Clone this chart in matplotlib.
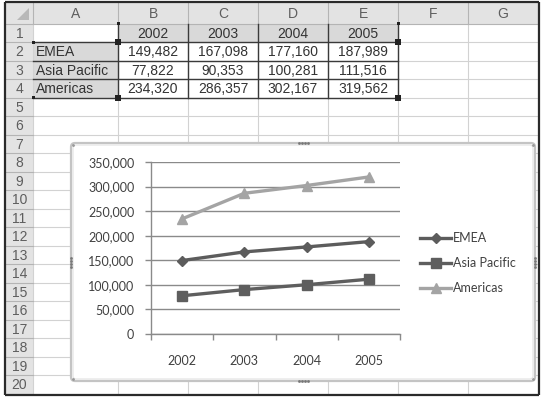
"""
Excel-style screenshot: small regional sales table with a line chart
embedded below it.
"""

import matplotlib
matplotlib.use("Agg")
import matplotlib.pyplot as plt
from matplotlib.patches import Rectangle, FancyBboxPatch, Polygon

# -------------------------
# Data
# -------------------------

years = ["2002", "2003", "2004", "2005"]
regions = ["EMEA", "Asia Pacific", "Americas"]
emea = [149482, 167098, 177160, 187989]
asia_pacific = [77822, 90353, 100281, 111516]
americas = [234320, 286357, 302167, 319562]
col_letters = ["A", "B", "C", "D", "E", "F", "G"]
y_ticks = [0, 50000, 100000, 150000, 200000, 250000, 300000, 350000]

W, H = 543, 397

# -------------------------
# Sheet geometry (pixels)
# -------------------------

col_x = [6, 33, 118, 188, 258, 328, 398, 468, 538]
head_top, head_bot = 3, 23.5
row_h = 18.5
n_rows = 20


def row_top(k):
    return head_bot + (k - 1) * row_h


def row_mid(k):
    return row_top(k) + row_h / 2


SHEET_FONT = "Liberation Sans"
CHART_FONT = "Lato"

fig = plt.figure(figsize=(W / 100, H / 100), dpi=100)
ax = fig.add_axes([0, 0, 1, 1])
ax.set_xlim(0, W)
ax.set_ylim(H, 0)
ax.axis("off")

grid_c = "#d2d2d2"
head_c = "#e3e3e3"
head_line = "#b4b4b4"
head_text = "#5e5e5e"
cell_text = "#333333"

# header row and row-number column
ax.add_patch(Rectangle((col_x[0], head_top), col_x[-1] - col_x[0],
                       head_bot - head_top, color=head_c, lw=0))
ax.add_patch(Rectangle((col_x[0], head_top), col_x[1] - col_x[0],
                       row_top(n_rows + 1) - head_top, color=head_c, lw=0))

# highlighted chart-source cells
ax.add_patch(Rectangle((col_x[2], row_top(1)), col_x[6] - col_x[2], row_h,
                       color="#d9d9d9", lw=0))
ax.add_patch(Rectangle((col_x[1], row_top(2)), col_x[2] - col_x[1], 3 * row_h,
                       color="#d9d9d9", lw=0))

# cell gridlines
for x in col_x[1:]:
    ax.plot([x, x], [head_bot, row_top(n_rows + 1)], color=grid_c, lw=0.8)
    ax.plot([x, x], [head_top, head_bot], color=head_line, lw=0.8)
for k in range(1, n_rows + 1):
    y = row_top(k + 1)
    ax.plot([col_x[1], col_x[-1]], [y, y], color=grid_c, lw=0.8)
    ax.plot([col_x[0], col_x[1]], [y, y], color=head_line, lw=0.8)
ax.plot([col_x[0], col_x[-1]], [head_bot, head_bot], color=head_line, lw=0.8)

# corner triangle
ax.add_patch(Polygon([[29, 8], [29, 20], [17, 20]], closed=True,
                     color="#b8b8b8", lw=0))

# column letters and row numbers
for i, letter in enumerate(col_letters):
    ax.text((col_x[i + 1] + col_x[i + 2]) / 2, (head_top + head_bot) / 2 + 1,
            letter, ha="center", va="center", fontsize=10,
            family=SHEET_FONT, color=head_text)
for k in range(1, n_rows + 1):
    ax.text((col_x[0] + col_x[1]) / 2, row_mid(k) + 1, str(k),
            ha="center", va="center", fontsize=10, family=SHEET_FONT,
            color=head_text)

# table contents
for j, yr in enumerate(years):
    ax.text((col_x[j + 2] + col_x[j + 3]) / 2, row_mid(1) + 1, yr,
            ha="center", va="center", fontsize=10, family=SHEET_FONT,
            color=cell_text)
for r, (label, vals) in enumerate(zip(regions,
                                      [emea, asia_pacific, americas])):
    ax.text(col_x[1] + 3, row_mid(r + 2) + 1, label, ha="left", va="center",
            fontsize=10, family=SHEET_FONT, color=cell_text)
    for j, v in enumerate(vals):
        ax.text((col_x[j + 2] + col_x[j + 3]) / 2, row_mid(r + 2) + 1,
                f"{v:,}", ha="center", va="center", fontsize=10,
                family=SHEET_FONT, color=cell_text)

# table borders
dark = "#3a3a3a"
for x in col_x[2:7]:
    ax.plot([x, x], [row_top(1), row_top(5)], color=dark, lw=1)
for k in range(2, 6):
    ax.plot([col_x[1], col_x[6]], [row_top(k), row_top(k)], color=dark, lw=1)

# selection handles
for x, y, s in [(118, row_top(2), 6), (118, row_top(5), 6),
                (398, row_top(2), 6), (398, row_top(5), 6),
                (33, row_top(2), 3), (33, row_top(5), 3),
                (118, row_top(1), 3), (398, row_top(1), 3)]:
    ax.add_patch(Rectangle((x - s / 2, y - s / 2), s, s, color="#222222",
                           lw=0, zorder=5))

# outer screenshot frame
for xs, ys in [([5, 539], [2, 2]), ([5, 539], [395, 395]),
               ([5, 5], [2, 395]), ([539, 539], [2, 395])]:
    ax.plot(xs, ys, color="#2a2a2a", lw=1.6, solid_capstyle="butt")

# -------------------------
# Chart area
# -------------------------

cx0, cy0, cx1, cy1 = 71, 143, 535, 381
ax.add_patch(FancyBboxPatch((cx0, cy0), cx1 - cx0, cy1 - cy0,
                            boxstyle="round,pad=0,rounding_size=4",
                            facecolor="white", edgecolor="#c4c4c4",
                            lw=1.6, zorder=6))
ax.add_patch(FancyBboxPatch((cx0 + 2, cy0 + 2), cx1 - cx0 - 4, cy1 - cy0 - 4,
                            boxstyle="round,pad=0,rounding_size=3",
                            facecolor="none", edgecolor="#e2e2e2",
                            lw=0.8, zorder=6))
mid_x, mid_y = (cx0 + cx1) / 2, (cy0 + cy1) / 2
for d in (-4.5, -1.5, 1.5, 4.5):
    ax.plot([mid_x + d], [cy0], "s", ms=0.9, color="#777777", zorder=7)
    ax.plot([mid_x + d], [cy1], "s", ms=0.9, color="#777777", zorder=7)
    ax.plot([cx0], [mid_y + d], "s", ms=0.9, color="#777777", zorder=7)
    ax.plot([cx1], [mid_y + d], "s", ms=0.9, color="#777777", zorder=7)
for x, y in [(cx0 + 2, cy0 + 2), (cx1 - 2, cy0 + 2),
             (cx0 + 2, cy1 - 2), (cx1 - 2, cy1 - 2)]:
    ax.plot([x], [y], ".", ms=2, color="#999999", zorder=7)

# plot area
px0, px1 = 151, 400
py_top, py_bot = 162, 334
pax = fig.add_axes([px0 / W, (H - py_bot) / H, (px1 - px0) / W,
                    (py_bot - py_top) / H], zorder=10)
pax.patch.set_alpha(0)

axis_c = "#8a8a8a"
series = [(emea, "D", "#5c5c5c", 5.5),
          (asia_pacific, "s", "#5e5e5e", 7),
          (americas, "^", "#a4a4a4", 7.5)]
xs = list(range(len(years)))
for (vals, mk, col, ms), name in zip(series, regions):
    pax.plot(xs, vals, color=col, lw=2.4, marker=mk, ms=ms, label=name,
             zorder=3)

pax.set_xlim(-0.5, len(years) - 0.5)
pax.set_ylim(0, 350000)
pax.set_yticks(y_ticks)
pax.set_yticklabels([f"{v:,}" for v in y_ticks])
pax.yaxis.grid(True, color=axis_c, lw=1)
pax.set_axisbelow(True)

pax.set_xticks([i - 0.5 for i in range(len(years) + 1)])
pax.set_xticklabels([])
pax.set_xticks(xs, minor=True)
pax.set_xticklabels(years, minor=True)
pax.tick_params(axis="x", which="major", direction="out", length=4,
                color=axis_c, width=1)
pax.tick_params(axis="x", which="minor", length=0, pad=15)
pax.tick_params(axis="y", direction="out", length=4, color=axis_c, width=1,
                pad=8)

for lab in pax.get_yticklabels() + pax.get_xticklabels(minor=True):
    lab.set_family(CHART_FONT)
    lab.set_fontsize(9)
    lab.set_color("#404040")

for side in ("top", "right"):
    pax.spines[side].set_visible(False)
for side in ("left", "bottom"):
    pax.spines[side].set_color(axis_c)
    pax.spines[side].set_linewidth(1)

leg = pax.legend(loc="center left", bbox_to_anchor=(420 / W, (H - 263) / H),
                 bbox_transform=fig.transFigure, frameon=False,
                 prop={"family": CHART_FONT, "size": 9},
                 handlelength=2.5, handletextpad=0.15, labelspacing=1.05,
                 borderpad=0, borderaxespad=0)
for t in leg.get_texts():
    t.set_color("#404040")

fig.savefig("out.png", dpi=100)
